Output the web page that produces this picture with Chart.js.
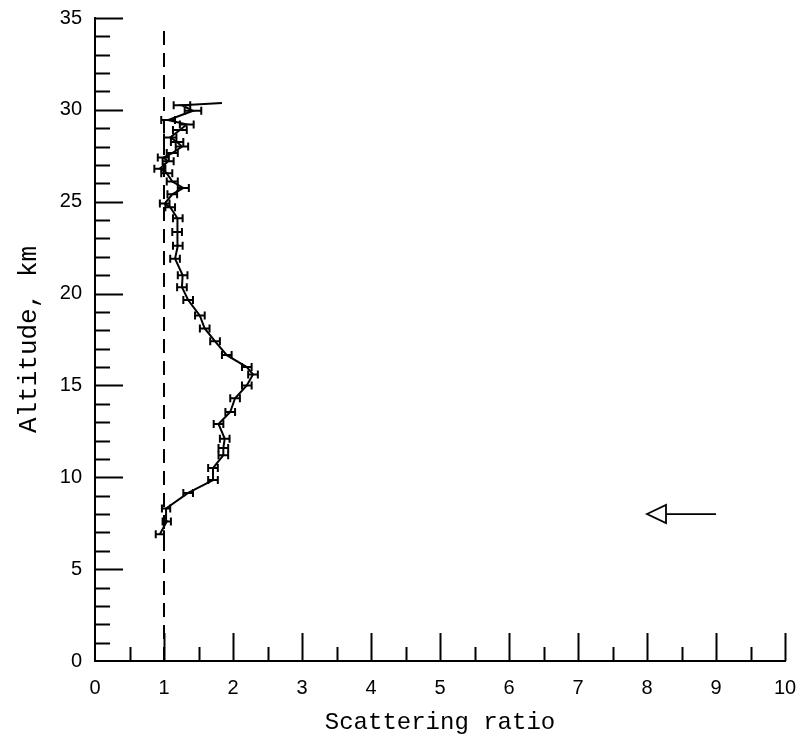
<!DOCTYPE html>
<html>
<head>
<meta charset="utf-8">
<script src="https://cdn.jsdelivr.net/npm/chart.js@4.4.1/dist/chart.umd.min.js"></script>
<style>
  html, body { margin: 0; padding: 0; background: #fff; }
  #wrap { width: 804px; height: 742px; position: relative; }
</style>
</head>
<body>
<div id="wrap"><canvas id="profile"></canvas></div>
<script>
// lidar scattering ratio profile, bottom to top
var altitude = [6.9, 7.6, 8.3, 9.15, 9.85, 10.5, 11.2, 11.6, 12.1, 12.9, 13.55, 14.3, 15.0, 15.6, 16.0,
  16.65, 17.4, 18.1, 18.8, 19.65, 20.35, 21.0, 21.9, 22.6, 23.35, 24.1, 24.7, 24.9, 25.4, 25.75,
  26.1, 26.55, 26.8, 27.2, 27.4, 27.65, 28.0, 28.25, 28.5, 28.9, 29.2, 29.45, 29.95, 30.25, 30.37];
var ratio = [0.94, 1.04, 1.03, 1.35, 1.71, 1.71, 1.86, 1.86, 1.88, 1.79, 1.96, 2.03, 2.20, 2.29, 2.20,
  1.91, 1.74, 1.59, 1.52, 1.35, 1.26, 1.27, 1.16, 1.20, 1.19, 1.20, 1.09, 1.01, 1.12, 1.28,
  1.12, 1.04, 0.94, 1.06, 0.99, 1.12, 1.26, 1.19, 1.09, 1.23, 1.33, 1.06, 1.42, 1.26, 1.84];
var ratioErr = [0.06, 0.06, 0.06, 0.07, 0.07, 0.07, 0.07, 0.07, 0.07, 0.07, 0.07, 0.07, 0.07, 0.07, 0.07,
  0.07, 0.07, 0.07, 0.07, 0.07, 0.07, 0.07, 0.07, 0.07, 0.07, 0.07, 0.07, 0.07, 0.07, 0.08,
  0.08, 0.08, 0.08, 0.08, 0.08, 0.08, 0.09, 0.09, 0.09, 0.1, 0.1, 0.1, 0.12, 0.12, 0];

// reference line at ratio = 1
var refX = [1, 1];
var refY = [0, 34.6];

// arrow marking the tropopause height
var arrowX = [9, 8];
var arrowY = 8;

var xTicks = [0, 1, 2, 3, 4, 5, 6, 7, 8, 9, 10];
var yTicks = [0, 5, 10, 15, 20, 25, 30, 35];

var tickFont = { family: 'Liberation Sans', size: 20 };

// ticks drawn inward from the axes, error bars and the arrow
const extras = {
  id: 'extras',
  afterDatasetsDraw(chart) {
    const ctx = chart.ctx;
    const xs = chart.scales.x, ys = chart.scales.y;
    const area = chart.chartArea;
    ctx.save();
    ctx.strokeStyle = '#000';
    ctx.lineWidth = 2;
    ctx.lineCap = 'butt';

    // y ticks: every km, long ones every 5 km
    for (let v = 1; v <= 35; v++) {
      const py = Math.round(ys.getPixelForValue(v)) + 0.5;
      const len = (v % 5 === 0) ? 28 : 15;
      ctx.beginPath();
      ctx.moveTo(area.left, py);
      ctx.lineTo(area.left + len, py);
      ctx.stroke();
    }
    // x ticks: every 0.5, long ones on integers
    for (let k = 1; k <= 20; k++) {
      const v = k / 2;
      const px = Math.round(xs.getPixelForValue(v)) + 0.5;
      const len = (k % 2 === 0) ? 28 : 14;
      ctx.beginPath();
      ctx.moveTo(px, area.bottom);
      ctx.lineTo(px, area.bottom - len);
      ctx.stroke();
    }

    // horizontal error bars with caps
    for (let i = 0; i < altitude.length; i++) {
      if (!ratioErr[i]) continue;
      const py = ys.getPixelForValue(altitude[i]);
      const x1 = xs.getPixelForValue(ratio[i] - ratioErr[i]);
      const x2 = xs.getPixelForValue(ratio[i] + ratioErr[i]);
      ctx.beginPath();
      ctx.moveTo(x1, py); ctx.lineTo(x2, py);
      ctx.moveTo(x1, py - 4); ctx.lineTo(x1, py + 4);
      ctx.moveTo(x2, py - 4); ctx.lineTo(x2, py + 4);
      ctx.stroke();
    }

    // arrow with open head
    const ay = ys.getPixelForValue(arrowY);
    const tail = xs.getPixelForValue(arrowX[0]);
    const tip = xs.getPixelForValue(arrowX[1]);
    ctx.lineWidth = 1.8;
    ctx.beginPath();
    ctx.moveTo(tail, ay);
    ctx.lineTo(tip + 19, ay);
    ctx.stroke();
    ctx.beginPath();
    ctx.moveTo(tip, ay);
    ctx.lineTo(tip + 19, ay - 9);
    ctx.lineTo(tip + 19, ay + 9);
    ctx.closePath();
    ctx.stroke();
    ctx.restore();
  }
};

const points = altitude.map((a, i) => ({ x: ratio[i], y: a }));
const refLine = refX.map((x, i) => ({ x: x, y: refY[i] }));

const ch = document.getElementById('profile').getContext('2d');
const profileChart = new Chart(ch, {
  type: 'scatter',
  data: {
    datasets: [{
      label: 'Scattering ratio',
      data: points,
      showLine: true,
      borderColor: '#000',
      borderWidth: 2,
      pointRadius: 0,
      tension: 0
    }, {
      label: 'ratio = 1',
      data: refLine,
      showLine: true,
      borderColor: '#000',
      borderWidth: 2,
      borderDash: [14, 8],
      pointRadius: 0
    }]
  },
  options: {
    maintainAspectRatio: false,
    responsive: true,
    animation: false,
    layout: { padding: { top: 18, right: 19, left: 0, bottom: 0 } },
    plugins: {
      legend: { display: false },
      tooltip: { enabled: false }
    },
    scales: {
      x: {
        type: 'linear',
        min: 0,
        max: 10,
        afterBuildTicks: (s) => { s.ticks = xTicks.map(v => ({ value: v })); },
        afterFit: (s) => { s.height = 81; s.paddingLeft = 0; s.paddingRight = 0; },
        ticks: { color: '#000', font: tickFont, padding: 15 },
        grid: { display: false, drawTicks: false },
        border: { display: true, color: '#000', width: 2 },
        title: { display: true, text: 'Scattering ratio', color: '#000',
          font: { family: 'Liberation Mono', size: 24 }, padding: { top: 4, bottom: 5 } }
      },
      y: {
        type: 'linear',
        min: 0,
        max: 35,
        afterBuildTicks: (s) => { s.ticks = yTicks.map(v => ({ value: v })); },
        afterFit: (s) => { s.width = 95; s.paddingTop = 0; s.paddingBottom = 0; },
        ticks: { color: '#000', font: tickFont, padding: 13 },
        grid: { display: false, drawTicks: false },
        border: { display: true, color: '#000', width: 2 },
        title: { display: true, text: 'Altitude, km', color: '#000',
          font: { family: 'Liberation Mono', size: 26 }, padding: { top: 14, bottom: 4 } }
      }
    }
  },
  plugins: [extras]
});
</script>
</body>
</html>
